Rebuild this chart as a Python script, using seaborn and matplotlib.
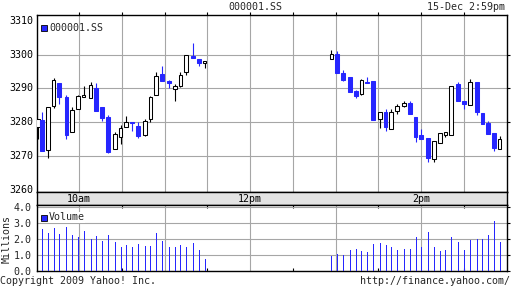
import numpy as np
import pandas as pd
import matplotlib
matplotlib.use("Agg")
import matplotlib.pyplot as plt
from matplotlib.patches import Rectangle
import seaborn as sns

# ---------------- data ----------------
times = ["9:31", "9:34", "9:38", "9:42", "9:46", "9:51", "9:55", "9:59", "10:03", "10:08",
         "10:12", "10:16", "10:20", "10:25", "10:29", "10:33", "10:37", "10:41", "10:46", "10:50",
         "10:54", "10:58", "11:03", "11:07", "11:11", "11:15", "11:20", "11:24", "11:28",
         "12:57", "13:01", "13:05", "13:10", "13:14", "13:18", "13:22", "13:26", "13:31", "13:35",
         "13:39", "13:43", "13:48", "13:52", "13:56", "14:00", "14:05", "14:09", "14:13", "14:17",
         "14:21", "14:26", "14:30", "14:34", "14:39", "14:43", "14:47", "14:51", "14:55"]
opens = [3278.5, 3280.6, 3271.9, 3284.7, 3291.7, 3287.4, 3277.1, 3283.9, 3287.5, 3287.3,
         3290.2, 3284.5, 3281.7, 3272.2, 3275.6, 3278.5, 3280.2, 3278.9, 3276.1, 3281.0,
         3288.2, 3294.2, 3292.2, 3289.9, 3290.8, 3295.0, 3299.6, 3298.8, 3297.5,
         3298.7, 3300.1, 3294.7, 3293.3, 3289.1, 3288.3, 3292.0, 3292.1, 3281.0, 3283.1,
         3277.9, 3283.4, 3284.7, 3285.7, 3281.7, 3276.3, 3275.5, 3269.1, 3273.9, 3276.3,
         3276.3, 3291.3, 3286.4, 3285.1, 3291.9, 3282.7, 3279.7, 3276.8, 3272.1]
highs = [3281.0, 3283.1, 3284.4, 3293.1, 3291.7, 3288.2, 3284.5, 3288.2, 3290.8, 3291.9,
         3291.7, 3284.5, 3282.2, 3277.0, 3279.1, 3282.0, 3280.2, 3280.2, 3281.0, 3287.9,
         3294.8, 3296.7, 3292.5, 3291.4, 3295.0, 3300.0, 3303.5, 3298.8, 3298.1,
         3301.3, 3301.0, 3295.4, 3293.3, 3289.6, 3292.7, 3293.3, 3292.1, 3282.9, 3283.9,
         3283.8, 3285.3, 3286.3, 3286.3, 3281.7, 3277.9, 3275.5, 3274.4, 3276.8, 3277.1,
         3290.7, 3291.9, 3286.4, 3292.7, 3291.9, 3282.7, 3280.3, 3276.8, 3275.8]
lows = [3275.1, 3271.6, 3269.4, 3284.2, 3285.3, 3275.1, 3277.1, 3283.9, 3287.5, 3287.3,
        3283.2, 3280.4, 3270.9, 3272.2, 3273.7, 3278.5, 3277.5, 3275.4, 3275.8, 3280.2,
        3288.2, 3292.3, 3290.0, 3286.4, 3290.5, 3294.0, 3299.0, 3296.7, 3296.0,
        3298.7, 3294.7, 3292.3, 3288.9, 3287.2, 3288.2, 3291.5, 3280.8, 3278.4, 3277.3,
        3277.9, 3282.5, 3284.4, 3282.5, 3274.1, 3275.1, 3268.2, 3268.4, 3273.9, 3275.6,
        3276.3, 3286.4, 3283.9, 3285.1, 3282.2, 3279.6, 3276.5, 3271.6, 3272.1]
closes = [3281.0, 3271.6, 3284.4, 3292.4, 3287.5, 3276.1, 3283.6, 3287.9, 3288.2, 3290.9,
          3283.2, 3281.3, 3271.1, 3276.6, 3278.2, 3280.2, 3279.8, 3275.8, 3280.5, 3287.6,
          3293.8, 3292.3, 3291.6, 3290.8, 3294.1, 3300.0, 3299.1, 3297.4, 3298.1,
          3300.1, 3294.7, 3292.6, 3288.9, 3287.9, 3292.4, 3291.5, 3280.8, 3282.9, 3278.7,
          3283.1, 3284.7, 3285.6, 3282.5, 3275.6, 3275.1, 3269.4, 3274.4, 3276.8, 3277.1,
          3290.7, 3286.4, 3285.3, 3291.9, 3282.9, 3279.6, 3276.5, 3272.4, 3275.1]
volumes = [0.0, 2.60, 2.35, 2.66, 2.29, 2.72, 2.23, 2.10, 2.47, 1.98,
           2.16, 1.86, 2.23, 1.79, 1.48, 1.61, 1.48, 1.67, 1.55, 1.55,
           2.35, 1.86, 1.48, 1.48, 1.61, 1.48, 1.73, 1.30, 0.74,
           0.93, 1.05, 0.99, 1.30, 1.36, 1.24, 1.18, 1.67, 1.73, 1.61,
           1.48, 1.30, 1.36, 1.36, 2.10, 1.48, 2.41, 1.48, 1.24, 1.30,
           2.10, 1.79, 1.30, 1.92, 1.98, 1.98, 2.23, 3.09, 1.79]

price_labels = [3260, 3270, 3280, 3290, 3300, 3310]
price_grid = [3270, 3280, 3290, 3300]
vol_ticks = [0.0, 1.0, 2.0, 3.0, 4.0]
hour_labels = {"10:00": "10am", "12:00": "12pm", "14:00": "2pm"}
symbol = "000001.SS"
stamp = "15-Dec 2:59pm"

# ---------------- helpers ----------------
def to_min(s):
    h, m = s.split(":")
    return int(h) * 60 + int(m) - (9 * 60 + 30)

df = pd.DataFrame({"t": [to_min(s) for s in times], "open": opens, "high": highs,
                   "low": lows, "close": closes, "vol": volumes})
df["up"] = df["close"] >= df["open"]

BLUE = "#2626ff"
GRID = "#a6a6a6"
W, H = 512, 288

sns.set_theme(style="white")
plt.rcParams["font.family"] = ["DejaVu Sans Mono", "DejaVu Sans"]
plt.rcParams["font.size"] = 7.2

fig = plt.figure(figsize=(W / 100, H / 100), dpi=100)
fig.patch.set_facecolor("white")

def rect(x0, y0, x1, y1):
    return [x0 / W, 1 - y1 / H, (x1 - x0) / W, (y1 - y0) / H]

L, R = 36.5, 506.7
ax = fig.add_axes(rect(L, 15, R, 192))
strip = fig.add_axes(rect(L, 192, R, 205.3))
axv = fig.add_axes(rect(L, 205.3, R, 271))

xlim = (0, 330)
half_hours = list(range(30, 330, 30))
hours = list(range(30, 330, 60))

# ---------------- price panel ----------------
wick_colors = ["black" if u else BLUE for u in df["up"]]
ax.vlines(df["t"], df["low"], df["high"], colors=wick_colors, linewidth=0.8, zorder=2)
body_bottom = np.minimum(df["open"], df["close"])
body_h = np.maximum(np.abs(df["close"] - df["open"]), 0.35)
ax.bar(df["t"], body_h, bottom=body_bottom, width=2.6,
       color=["white" if u else BLUE for u in df["up"]],
       edgecolor=["black" if u else BLUE for u in df["up"]],
       linewidth=0.75, zorder=3)
ax.set_xlim(*xlim)
ax.set_ylim(3259.4, 3311.7)
ax.set_xticks(half_hours)
ax.set_yticks(price_grid)
ax.grid(True, color=GRID, linewidth=0.8)
ax.set_axisbelow(True)
ax.tick_params(axis="x", top=True, bottom=False, labelbottom=False, direction="out",
               length=2.3, width=0.8, color="black")
ax.tick_params(axis="y", left=False, right=True, labelleft=False, direction="out",
               length=2.3, width=0.8, color="black")
for s in ax.spines.values():
    s.set_color("black")
    s.set_linewidth(1.0)
for v in price_labels:
    ax.text(-0.007, v, str(v), transform=ax.get_yaxis_transform(), ha="right",
            va="center", fontsize=7.2, color="black")
ax.set_xlabel("")
ax.set_ylabel("")

# ---------------- time strip ----------------
strip.set_facecolor("#e3e3e3")
strip.set_xlim(*xlim)
strip.set_ylim(0, 1)
strip.set_xticks([])
strip.set_yticks([])
for s in strip.spines.values():
    s.set_color("black")
    s.set_linewidth(1.0)
for k, lab in hour_labels.items():
    strip.text(to_min(k), 0.45, lab, ha="center", va="center", fontsize=7.2, color="black")

# ---------------- volume panel ----------------
vdf = df[df["vol"] > 0]
axv.vlines(vdf["t"], 0, vdf["vol"], colors=BLUE, linewidth=0.72, antialiased=False, zorder=3)
axv.set_xlim(*xlim)
axv.set_ylim(0, 4.08)
axv.set_xticks(hours)
axv.set_xticks(half_hours, minor=True)
axv.set_yticks(vol_ticks)
axv.set_yticklabels([f"{v:.1f}" for v in vol_ticks])
axv.grid(True, which="major", color=GRID, linewidth=0.8)
axv.set_axisbelow(True)
axv.tick_params(axis="x", which="major", length=0, labelbottom=False)
axv.tick_params(axis="x", which="minor", top=True, bottom=True, direction="in",
                length=2.3, width=0.8, color="black")
axv.tick_params(axis="y", left=False, right=True, direction="out", length=2.3,
                width=0.8, color="black", pad=1.2, labelsize=7.2)
axv.set_xlabel("")
axv.set_ylabel("")
for s in axv.spines.values():
    s.set_color("black")
    s.set_linewidth(1.0)

# ---------------- legends & texts ----------------
fig.add_artist(Rectangle((41 / W, 1 - 31 / H), 6 / W, 6 / H, transform=fig.transFigure,
                         facecolor=BLUE, edgecolor="black", linewidth=0.6))
fig.text(49 / W, 1 - 28.3 / H, symbol, ha="left", va="center", fontsize=7.2)
fig.add_artist(Rectangle((41 / W, 1 - 220.5 / H), 6 / W, 6 / H, transform=fig.transFigure,
                         facecolor=BLUE, edgecolor="black", linewidth=0.6))
fig.text(49 / W, 1 - 217.5 / H, "Volume", ha="left", va="center", fontsize=7.2,
         bbox=dict(facecolor="white", edgecolor="none", pad=0.3))
fig.text(7 / W, 1 - 239 / H, "Millions", rotation=90, ha="center", va="center", fontsize=7.2)
fig.text(255.5 / W, 1 - 7 / H, symbol, ha="center", va="center", fontsize=7.2)
fig.text(505 / W, 1 - 7 / H, stamp, ha="right", va="center", fontsize=7.2)
fig.text(0.5 / W, 1 - 280.5 / H, "Copyright 2009 Yahoo! Inc.", ha="left", va="center", fontsize=7.2)
fig.text(510 / W, 1 - 280.5 / H, "http://finance.yahoo.com/", ha="right", va="center", fontsize=7.2)

fig.savefig("out.png", dpi=100)
